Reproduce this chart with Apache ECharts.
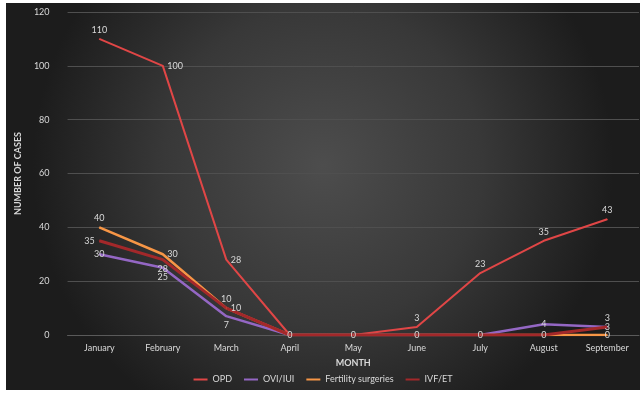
<!DOCTYPE html>
<html>
<head>
<meta charset="utf-8">
<script src="https://cdn.jsdelivr.net/npm/echarts@6/dist/echarts.min.js"></script>
<style>
html, body { margin: 0; padding: 0; background: #fff; }
#chart { position: absolute; left: 6px; top: 3px; width: 634px; height: 387px; }
</style>
</head>
<body>
<div id="chart"></div>
<script>
// 月份和各项数据
var months = ['January', 'February', 'March', 'April', 'May', 'June', 'July', 'August', 'September']
var opd = [110, 100, 28, 0, 0, 3, 23, 35, 43]
var oviIui = [30, 25, 7, 0, 0, 0, 0, 4, 3]
var fertilitySurgeries = [40, 30, 10, 0, 0, 0, 0, 0, 0]
var ivfEt = [35, 28, 10, 0, 0, 0, 0, 0, 3]
var yTicks = [0, 20, 40, 60, 80, 100, 120]

var font = 'Lato, "Open Sans", sans-serif'
var labelColor = '#d9d9d9'

// positions 里 'none' 表示不显示标签（重叠的 0）
function lineSeries (name, data, color, width, positions) {
    return {
        name: name,
        type: 'line',
        data: data.map(function (v, i) {
            var p = positions[i] || 'top'
            return {
                value: v,
                label: p === 'none' ? { show: false } : { position: p }
            }
        }),
        symbol: 'circle',
        symbolSize: 1,
        showSymbol: true,
        lineStyle: { color: color, width: width },
        itemStyle: { color: color },
        label: {
            show: true,
            color: labelColor,
            fontFamily: font,
            fontSize: 9,
            distance: 4
        }
    }
}

var myChart = echarts.init(document.getElementById('chart'))
myChart.setOption({
    backgroundColor: {
        type: 'radial',
        x: 0.5,
        y: 0.42,
        r: 0.75,
        colorStops: [
            { offset: 0, color: '#4d4d4d' },
            { offset: 0.55, color: '#383838' },
            { offset: 1, color: '#1c1c1c' }
        ]
    },
    animation: false,
    textStyle: { fontFamily: font },
    grid: { left: 44, right: 1, top: 9, bottom: 55 },
    legend: {
        bottom: 1,
        left: 'center',
        itemWidth: 14,
        itemHeight: 2,
        itemGap: 12,
        icon: 'rect',
        textStyle: { color: labelColor, fontSize: 9, fontFamily: font },
        data: ['OPD', 'OVI/IUI', 'Fertility surgeries', 'IVF/ET']
    },
    xAxis: {
        type: 'category',
        data: months,
        name: 'MONTH',
        nameLocation: 'middle',
        nameGap: 24,
        nameTextStyle: { color: labelColor, fontSize: 9, fontWeight: 'bold' },
        axisLine: { lineStyle: { color: '#5a5a5a' } },
        axisTick: { show: false },
        axisLabel: { color: labelColor, fontSize: 9, margin: 9 }
    },
    yAxis: {
        type: 'value',
        min: yTicks[0],
        max: yTicks[yTicks.length - 1],
        interval: 20,
        name: 'NUMBER OF CASES',
        nameLocation: 'middle',
        nameGap: 25,
        nameTextStyle: { color: labelColor, fontSize: 9, fontWeight: 'bold' },
        axisLine: { show: false },
        axisTick: { show: false },
        axisLabel: { color: labelColor, fontSize: 9, margin: 18 },
        splitLine: { lineStyle: { color: '#4f4f4f', width: 1 } }
    },
    series: [
        lineSeries('OPD', opd, '#e04646', 2, ['top', 'right', 'right', 'none', 'none', 'top', 'top', 'top', 'top']),
        lineSeries('OVI/IUI', oviIui, '#9467c4', 2.5, ['inside', 'bottom', 'bottom', 'none', 'none', 'none', 'none', 'inside', 'top']),
        lineSeries('Fertility surgeries', fertilitySurgeries, '#f79646', 2.5, ['top', 'right', 'top', 'none', 'none', 'none', 'none', 'none', 'inside']),
        lineSeries('IVF/ET', ivfEt, '#a3282a', 3, ['left', 'bottom', 'right', 'inside', 'inside', 'inside', 'inside', 'inside', 'inside'])
    ]
})
</script>
</body>
</html>
